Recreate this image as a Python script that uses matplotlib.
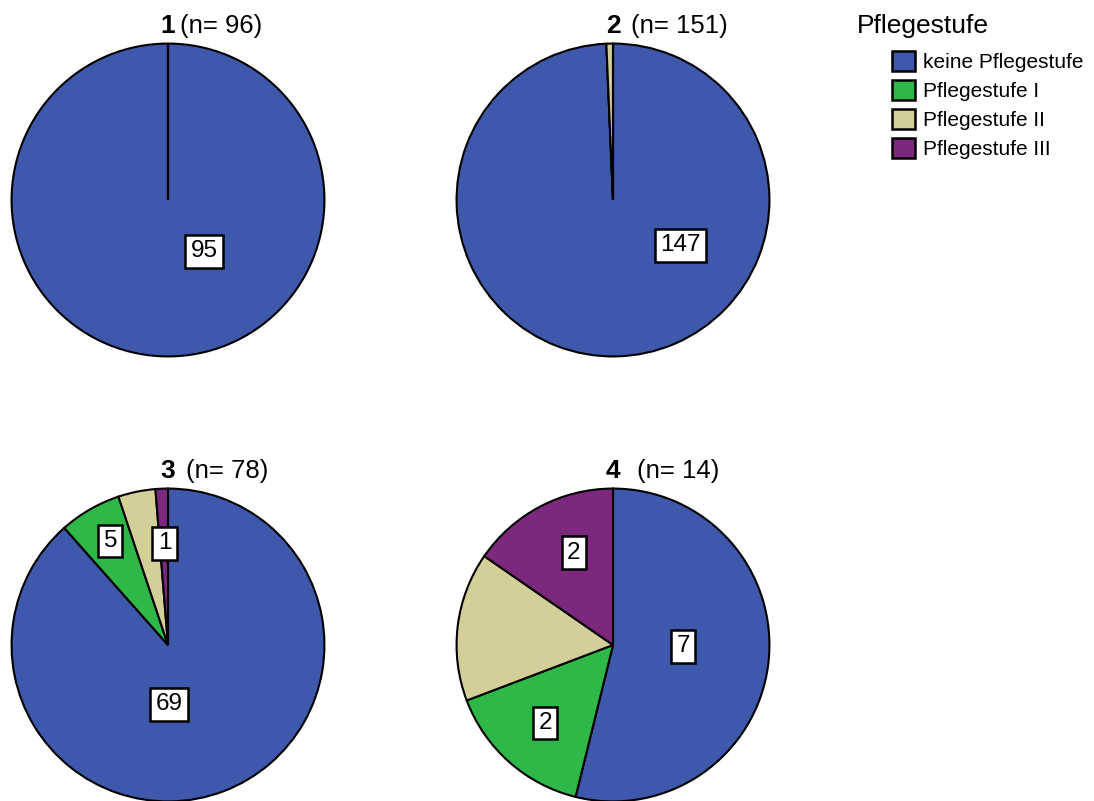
import matplotlib
matplotlib.use("Agg")
import matplotlib.pyplot as plt
import numpy as np
from matplotlib.patches import Patch

plt.rcParams['font.family'] = ['Liberation Sans', 'DejaVu Sans']

# Daten: Anzahl je Pflegestufe in den vier Gruppen
kategorien = ['keine Pflegestufe', 'Pflegestufe I', 'Pflegestufe II', 'Pflegestufe III']
farben = ['#3E58AC', '#2EB848', '#D4CF98', '#7B287D']
gruppen = ['1', '2', '3', '4']
n_gesamt = [96, 151, 78, 14]
werte = [
    [95, 0, 0, 0],
    [147, 0, 1, 0],
    [69, 5, 3, 1],
    [7, 2, 2, 2],
]
# welche Segmente eine Beschriftung bekommen
beschriftet = [
    [True, False, False, False],
    [True, False, False, False],
    [True, True, False, True],
    [True, True, False, True],
]

# Layout in Pixeln (Figur 1094 x 801)
W, H = 1094, 801
R = 158
zentren = [(168, 200), (613, 200), (168, 645), (613, 645)]
titel_y = [33, 33, 478, 478]
n_abstand = [12, 18, 18, 24]
# Lage der Beschriftungen: Winkel im Uhrzeigersinn ab 12 Uhr, Abstand relativ zum Radius
lab_winkel = [
    [145, None, None, None],
    [124, None, None, None],
    [179, 331, None, 358],
    [91, 221, None, 337],
]
lab_abstand = [
    [0.40, 0, 0, 0],
    [0.52, 0, 0, 0],
    [0.38, 0.76, 0, 0.65],
    [0.45, 0.66, 0, 0.64],
]


def fx(x):
    return x / W


def fy(y):
    return 1 - y / H


fig = plt.figure(figsize=(W / 100, H / 100), dpi=100)

for i, (cx, cy) in enumerate(zentren):
    ax = fig.add_axes([fx(cx - R), fy(cy + R), 2 * R / W, 2 * R / H])
    ax.pie(werte[i], colors=farben, startangle=90, counterclock=False,
           radius=1, wedgeprops=dict(edgecolor='black', linewidth=1.5))
    ax.set_xlim(-1.01, 1.01)
    ax.set_ylim(-1.01, 1.01)
    ax.set_aspect('equal')
    ax.axis('off')

    for j, v in enumerate(werte[i]):
        if not beschriftet[i][j]:
            continue
        w = np.deg2rad(lab_winkel[i][j])
        r = lab_abstand[i][j]
        ax.text(r * np.sin(w), r * np.cos(w), str(v), ha='center', va='center',
                fontsize=17.5,
                bbox=dict(boxstyle='square,pad=0.22', facecolor='white',
                          edgecolor='black', linewidth=1.8))

    # Gruppentitel: fette Nummer plus Fallzahl
    fig.text(fx(cx), fy(titel_y[i]), gruppen[i], ha='center', va='baseline',
             fontsize=19, fontweight='bold')
    fig.text(fx(cx + n_abstand[i]), fy(titel_y[i]), '(n= %d)' % n_gesamt[i],
             ha='left', va='baseline', fontsize=18.5)

# Legende
fig.text(fx(857), fy(33), 'Pflegestufe', ha='left', va='baseline', fontsize=19)
handles = [Patch(facecolor=c, edgecolor='black', linewidth=1.8) for c in farben]
fig.legend(handles, kategorien, loc='upper left',
           bbox_to_anchor=(fx(892), fy(51)), frameon=False, fontsize=15,
           handlelength=1.1, handleheight=1.1, handletextpad=0.4,
           labelspacing=0.38, borderpad=0, borderaxespad=0)

fig.savefig('out.png', dpi=100)
